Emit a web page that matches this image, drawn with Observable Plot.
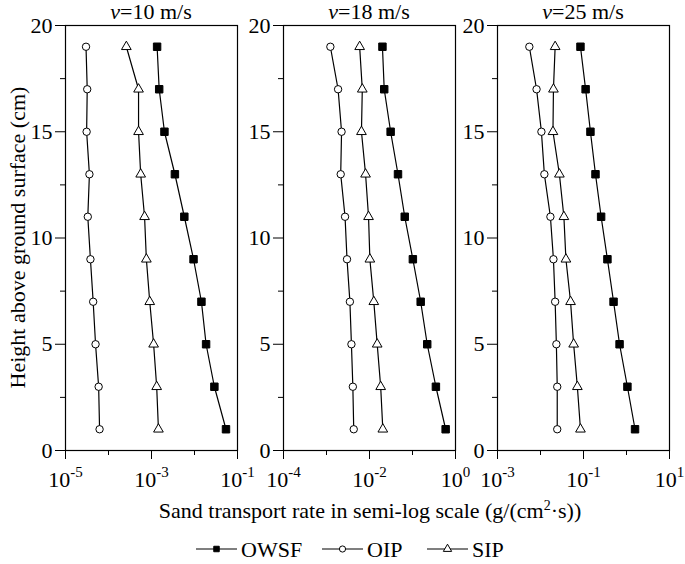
<!DOCTYPE html>
<html>
<head>
<meta charset="utf-8">
<script src="https://cdn.jsdelivr.net/npm/d3@7"></script>
<script src="https://cdn.jsdelivr.net/npm/@observablehq/plot@0.6"></script>
<style>
  body { margin: 0; background: #fff; }
  #wrap { position: relative; width: 685px; height: 564px; background: #fff; }
  #wrap svg { position: absolute; top: 0; }
  #wrap svg, #wrap svg text, #wrap svg g { font-family: "Liberation Serif", "Times New Roman", serif !important; }
</style>
</head>
<body>
<div id="wrap"></div>
<script>
// ---- data ----
const heights = [1, 3, 5, 7, 9, 11, 13, 15, 17, 19];
const speeds = ["10", "18", "25"];
const seriesNames = ["OWSF", "OIP", "SIP"];

const owsf10 = [5.4e-2, 2.9e-2, 1.86e-2, 1.45e-2, 9.5e-3, 5.8e-3, 3.5e-3, 2.0e-3, 1.51e-3, 1.35e-3];
const oip10  = [6.2e-5, 5.9e-5, 5.0e-5, 4.4e-5, 3.8e-5, 3.3e-5, 3.6e-5, 3.1e-5, 3.2e-5, 3.0e-5];
const sip10  = [1.45e-3, 1.32e-3, 1.12e-3, 9.1e-4, 7.6e-4, 6.9e-4, 5.6e-4, 5.0e-4, 5.0e-4, 2.6e-4];

const owsf18 = [0.59, 0.35, 0.22, 0.155, 0.102, 0.066, 0.046, 0.031, 0.022, 0.020];
const oip18  = [4.3e-3, 4.1e-3, 3.8e-3, 3.5e-3, 3.0e-3, 2.7e-3, 2.14e-3, 2.24e-3, 1.86e-3, 1.23e-3];
const sip18  = [2.04e-2, 1.82e-2, 1.51e-2, 1.26e-2, 1.02e-2, 9.5e-3, 8.1e-3, 6.5e-3, 6.8e-3, 5.9e-3];

const owsf25 = [1.58, 1.05, 0.69, 0.50, 0.36, 0.257, 0.19, 0.145, 0.112, 0.085];
const oip25  = [2.45e-2, 2.45e-2, 2.34e-2, 2.19e-2, 2.0e-2, 1.70e-2, 1.23e-2, 1.05e-2, 8.1e-3, 5.5e-3];
const sip25  = [8.5e-2, 7.2e-2, 5.9e-2, 5.0e-2, 3.9e-2, 3.5e-2, 2.75e-2, 1.95e-2, 2.0e-2, 2.19e-2];

const xDomains = [[1e-5, 1e-1], [1e-4, 1e0], [1e-3, 1e1]];
const majorExps = [[-5, -3, -1], [-4, -2, 0], [-3, -1, 1]];
const minorExps = [[-4, -2], [-3, -1], [-2, 0]];
const yMajor = [0, 5, 10, 15, 20];
const yMinor = [2.5, 7.5, 12.5, 17.5];
const yLabel = "Height above ground surface (cm)";
const xLabelMain = "Sand transport rate in semi-log scale (g/(cm";
const xLabelSup = "2";
const xLabelEnd = "·s))";

// ---- layout ----
const FONT = '"Liberation Serif","Times New Roman",serif';
const ML = 65, INNER = 172;
const panelLefts = [0, 218, 432];
const panelMR = [20, 20, 14];
const wrap = document.getElementById("wrap");

const panels = [[owsf10, oip10, sip10], [owsf18, oip18, sip18], [owsf25, oip25, sip25]];

panels.forEach(([owsf, oip, sip], i) => {
  const rows = s => heights.map((h, k) => ({h, v: s[k]}));
  const svg = Plot.plot({
    width: ML + INNER + panelMR[i],
    height: 564,
    marginLeft: ML, marginRight: panelMR[i], marginTop: 25, marginBottom: 114,
    style: {background: "transparent", overflow: "visible", fontFamily: FONT, fontSize: "22px", color: "black"},
    x: {type: "log", domain: xDomains[i]},
    y: {domain: [0, 20]},
    marks: [
      Plot.axisX({ticks: majorExps[i].map(e => Math.pow(10, e)), tickSize: 9, tickPadding: 12,
        tickFormat: d => "10^" + Math.round(Math.log10(d)), label: null, fontSize: 22, fontFamily: FONT}),
      Plot.axisX({ticks: minorExps[i].map(e => Math.pow(10, e)), tickSize: 5, tickFormat: () => "", label: null}),
      Plot.axisY({ticks: yMajor, tickSize: 10, tickPadding: 3, label: null, fontSize: 22, fontFamily: FONT}),
      Plot.axisY({ticks: yMinor, tickSize: 5, tickFormat: () => "", label: null}),
      Plot.frame({stroke: "black", strokeWidth: 1.2}),
      Plot.line(rows(owsf), {x: "v", y: "h", stroke: "black", strokeWidth: 1.2}),
      Plot.line(rows(oip), {x: "v", y: "h", stroke: "black", strokeWidth: 1.2}),
      Plot.line(rows(sip), {x: "v", y: "h", stroke: "black", strokeWidth: 1.2}),
      Plot.dot(rows(owsf), {x: "v", y: "h", symbol: "square", r: 4.2, fill: "black", stroke: "black", strokeWidth: 1}),
      Plot.dot(rows(oip), {x: "v", y: "h", symbol: "circle", r: 3.7, fill: "white", stroke: "black", strokeWidth: 1}),
      Plot.dot(rows(sip), {x: "v", y: "h", symbol: "triangle", r: 3.6, fill: "white", stroke: "black", strokeWidth: 1})
    ]
  });
  svg.style.left = panelLefts[i] + "px";
  // superscript exponents on x tick labels
  d3.select(svg).selectAll("text").each(function() {
    const t = this.textContent;
    const m = t.match(/^10\^(-?\d+)$/);
    if (m) {
      const sel = d3.select(this);
      sel.text("10");
      sel.append("tspan").attr("dy", -10).attr("font-size", 15).text(m[1]);
    }
  });
  wrap.appendChild(svg);
});

// ---- overlay: titles, axis labels, legend ----
const ov = d3.select(wrap).append("svg")
  .attr("width", 685).attr("height", 564)
  .style("left", "0px").style("pointer-events", "none")
  .attr("font-family", FONT).attr("font-size", 22).attr("fill", "black");

const frameLefts = panelLefts.map(l => l + ML);
speeds.forEach((s, i) => {
  const t = ov.append("text").attr("x", frameLefts[i] + INNER / 2).attr("y", 19).attr("text-anchor", "middle");
  t.append("tspan").attr("font-style", "italic").text("v");
  t.append("tspan").text("=" + s + " m/s");
});

ov.append("text").attr("transform", "translate(25,237.5) rotate(-90)").attr("text-anchor", "middle").text(yLabel);

const xl = ov.append("text").attr("x", 370).attr("y", 518).attr("text-anchor", "middle");
xl.append("tspan").text(xLabelMain);
xl.append("tspan").attr("dy", -8).attr("font-size", 14).text(xLabelSup);
xl.append("tspan").attr("dy", 8).text(xLabelEnd);

const legendY = 549;
const legendItems = [
  {name: seriesNames[0], x1: 196, sym: d3.symbolSquare, size: 30, fill: "black"},
  {name: seriesNames[1], x1: 322, sym: d3.symbolCircle, size: 30, fill: "white"},
  {name: seriesNames[2], x1: 427, sym: d3.symbolTriangle, size: 30, fill: "white"}
];
legendItems.forEach(it => {
  const g = ov.append("g");
  g.append("line").attr("x1", it.x1).attr("x2", it.x1 + 41).attr("y1", legendY).attr("y2", legendY)
    .attr("stroke", "black").attr("stroke-width", 1.2);
  g.append("path").attr("d", d3.symbol(it.sym, it.size)()).attr("transform", `translate(${it.x1 + 20.5},${legendY})`)
    .attr("fill", it.fill).attr("stroke", "black").attr("stroke-width", 1);
  g.append("text").attr("x", it.x1 + 45).attr("y", legendY + 7.5).text(it.name);
});
</script>
</body>
</html>
